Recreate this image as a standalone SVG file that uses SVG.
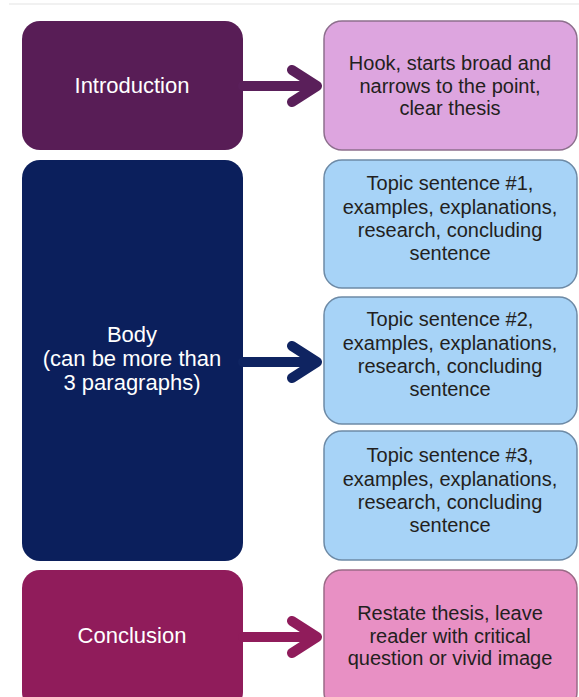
<svg xmlns="http://www.w3.org/2000/svg" width="579" height="697" viewBox="0 0 579 697">
<style>
.lt{font-family:"Liberation Sans",Arial,sans-serif;font-size:22px;fill:#ffffff;text-anchor:middle}
.rt{font-family:"Liberation Sans",Arial,sans-serif;font-size:20px;fill:#231f20;text-anchor:middle}
.arr{fill:none;stroke-width:10;stroke-linecap:round;stroke-linejoin:round}
</style>
<rect width="579" height="697" fill="#ffffff"/>
<line x1="9" y1="4" x2="579" y2="4" stroke="#ececec" stroke-width="1.5"/>
<g id="intro">
<rect x="22" y="21" width="221" height="129" rx="18" fill="#581d56"/>
<text class="lt" x="132" y="93">Introduction</text>
</g>
<g id="intro-detail">
<rect x="324" y="21" width="253" height="129" rx="18" fill="#dda5df" stroke="#8d6f8d" stroke-width="1.5"/>
<text class="rt" x="450" y="70">Hook, starts broad and</text>
<text class="rt" x="450" y="93">narrows to the point,</text>
<text class="rt" x="450" y="115">clear thesis</text>
</g>
<g id="body">
<rect x="22" y="160" width="221" height="401" rx="18" fill="#0b1f5c"/>
<text class="lt" x="132" y="342">Body</text>
<text class="lt" x="132" y="366">(can be more than</text>
<text class="lt" x="132" y="390">3 paragraphs)</text>
</g>
<g id="topic1">
<rect x="324" y="160" width="253" height="128" rx="18" fill="#a7d3f7" stroke="#6d8aa6" stroke-width="1.5"/>
<text class="rt" x="450" y="190">Topic sentence #1,</text>
<text class="rt" x="450" y="214">examples, explanations,</text>
<text class="rt" x="450" y="237">research, concluding</text>
<text class="rt" x="450" y="260">sentence</text>
</g>
<g id="topic2">
<rect x="324" y="297" width="253" height="127" rx="18" fill="#a7d3f7" stroke="#6d8aa6" stroke-width="1.5"/>
<text class="rt" x="450" y="326">Topic sentence #2,</text>
<text class="rt" x="450" y="350">examples, explanations,</text>
<text class="rt" x="450" y="373">research, concluding</text>
<text class="rt" x="450" y="396">sentence</text>
</g>
<g id="topic3">
<rect x="324" y="431" width="253" height="129" rx="18" fill="#a7d3f7" stroke="#6d8aa6" stroke-width="1.5"/>
<text class="rt" x="450" y="462">Topic sentence #3,</text>
<text class="rt" x="450" y="486">examples, explanations,</text>
<text class="rt" x="450" y="509">research, concluding</text>
<text class="rt" x="450" y="532">sentence</text>
</g>
<g id="conclusion">
<rect x="22" y="570" width="221" height="140" rx="18" fill="#901c5b"/>
<text class="lt" x="132" y="643">Conclusion</text>
</g>
<g id="conclusion-detail">
<rect x="324" y="570" width="253" height="140" rx="18" fill="#e890c4" stroke="#9a6a86" stroke-width="1.5"/>
<text class="rt" x="450" y="620">Restate thesis, leave</text>
<text class="rt" x="450" y="643">reader with critical</text>
<text class="rt" x="450" y="665">question or vivid image</text>
</g>
<g id="connectors">
<path class="arr" stroke="#5a1f5a" d="M243 86H316M292 70L317 86L292 102"/>
<path class="arr" stroke="#0f2461" d="M243 362H316M292 346L317 362L292 378"/>
<path class="arr" stroke="#901c5b" d="M243 637H316M292 621L317 637L292 653"/>
</g>
</svg>
